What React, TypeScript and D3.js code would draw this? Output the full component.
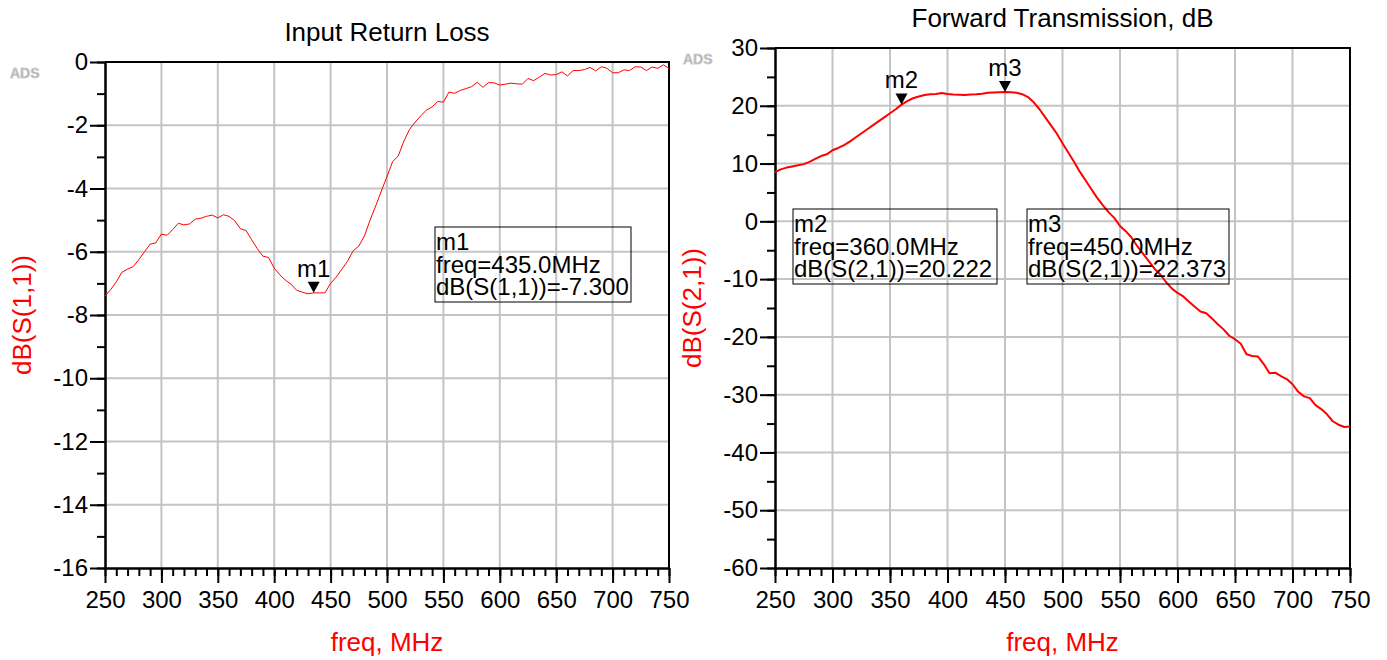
import React, { useEffect, useRef } from "react";
import * as d3 from "d3";

// sweep points (MHz), both traces share the same grid
const FREQ = [
  250, 255, 260, 265, 270, 275, 280, 285, 290, 295, 300, 305, 310, 315, 320, 325, 330, 335, 340, 345,
  350, 355, 360, 365, 370, 375, 380, 385, 390, 395, 400, 405, 410, 415, 420, 425, 430, 435, 440, 445,
  450, 455, 460, 465, 470, 475, 480, 485, 490, 495, 500, 505, 510, 515, 520, 525, 530, 535, 540, 545,
  550, 555, 560, 565, 570, 575, 580, 585, 590, 595, 600, 605, 610, 615, 620, 625, 630, 635, 640, 645,
  650, 655, 660, 665, 670, 675, 680, 685, 690, 695, 700, 705, 710, 715, 720, 725, 730, 735, 740, 745,
  750,
];

const S11_DB = [
  -7.4, -7.2, -6.95, -6.65, -6.55, -6.47, -6.25, -6.0, -5.76, -5.72, -5.44, -5.48, -5.3, -5.1, -5.15,
  -5.12, -4.97, -4.94, -4.88, -4.84, -4.93, -4.83, -4.88, -5.02, -5.27, -5.33, -5.62, -5.9, -6.14, -6.18,
  -6.52, -6.73, -6.9, -7.03, -7.22, -7.28, -7.33, -7.3, -7.3, -7.3, -7.0, -6.8, -6.55, -6.3, -5.97,
  -5.82, -5.5, -5.0, -4.55, -4.08, -3.62, -3.15, -2.97, -2.5, -2.13, -1.9, -1.7, -1.52, -1.42, -1.25,
  -1.27, -0.95, -0.99, -0.9, -0.84, -0.78, -0.64, -0.8, -0.65, -0.66, -0.73, -0.7, -0.67, -0.69, -0.7,
  -0.52, -0.59, -0.48, -0.36, -0.41, -0.4, -0.31, -0.44, -0.27, -0.27, -0.24, -0.17, -0.28, -0.15, -0.2,
  -0.34, -0.34, -0.25, -0.27, -0.15, -0.16, -0.27, -0.16, -0.2, -0.09, -0.2,
];

const S21_DB = [
  8.5, 9.0, 9.3, 9.5, 9.7, 9.9, 10.3, 10.8, 11.3, 11.6, 12.3, 12.7, 13.2, 13.8, 14.5, 15.2, 15.9, 16.6,
  17.3, 18.0, 18.7, 19.4, 20.2, 20.8, 21.3, 21.6, 21.85, 22.0, 22.05, 22.2, 22.05, 21.95, 21.9, 21.85,
  21.95, 22.0, 22.1, 22.25, 22.3, 22.35, 22.37, 22.35, 22.25, 22.0, 21.5, 20.6, 19.4, 18.0, 16.6, 15.2,
  13.5, 11.9, 10.3, 8.6, 7.1, 5.6, 4.1, 2.8, 1.6, 0.6, -0.8, -1.7, -2.8, -4.3, -5.6, -6.9, -8.2, -9.2,
  -10.5, -11.6, -12.4, -13.0, -13.9, -14.8, -15.6, -15.9, -16.8, -17.8, -18.7, -19.8, -20.4, -21.2,
  -23.0, -23.3, -23.4, -24.7, -26.3, -26.2, -26.8, -27.3, -28.2, -29.5, -30.3, -30.6, -31.8, -32.5,
  -33.4, -34.6, -35.2, -35.6, -35.5,
];

const FREQ_TICKS = [250, 300, 350, 400, 450, 500, 550, 600, 650, 700, 750];
const S11_TICKS = [0, -2, -4, -6, -8, -10, -12, -14, -16];
const S21_TICKS = [30, 20, 10, 0, -10, -20, -30, -40, -50, -60];

const MARKER_NAMES = ["m1", "m2", "m3"];
const MARKER_FREQ = [435, 360, 450];
const MARKER_DB = [-7.3, 20.222, 22.373];
const MARKER_TEXT = ["dB(S(1,1))=-7.300", "dB(S(2,1))=20.222", "dB(S(2,1))=22.373"];

const FONT = "'Liberation Sans', Arial, sans-serif";
const GRID = "#c4c4c4";
const RED = "#ff0000";

const panels = [
  {
    left: 105, right: 669, top: 62, bottom: 568,
    yDomain: [-16, 0], yTicks: S11_TICKS, yMinorStep: 1,
    title: "Input Return Loss", titleY: 41,
    ylabel: "dB(S(1,1))", values: S11_DB, lineWidth: 1,
    markers: [0], boxes: [{ m: 0, x: 435, y: 227, w: 196, h: 75 }],
    ads: { x: 10, y: 78 },
  },
  {
    left: 775, right: 1350, top: 48, bottom: 568,
    yDomain: [-60, 30], yTicks: S21_TICKS, yMinorStep: 5,
    title: "Forward Transmission, dB", titleY: 27,
    ylabel: "dB(S(2,1))", values: S21_DB, lineWidth: 2,
    markers: [1, 2],
    boxes: [
      { m: 1, x: 793, y: 209, w: 204, h: 75 },
      { m: 2, x: 1027, y: 209, w: 202, h: 75 },
    ],
    ads: { x: 683, y: 64 },
  },
];

function drawPanel(svg, p) {
  const x = d3.scaleLinear().domain([250, 750]).range([p.left, p.right]);
  const y = d3.scaleLinear().domain(p.yDomain).range([p.bottom, p.top]);
  const g = svg.append("g");

  // grid
  g.append("g")
    .selectAll("line")
    .data(FREQ_TICKS.slice(1, -1))
    .join("line")
    .attr("x1", (d) => x(d)).attr("x2", (d) => x(d))
    .attr("y1", p.top).attr("y2", p.bottom)
    .attr("stroke", GRID).attr("stroke-width", 2);
  g.append("g")
    .selectAll("line")
    .data(p.yTicks.filter((d) => d !== p.yDomain[0] && d !== p.yDomain[1]))
    .join("line")
    .attr("x1", p.left).attr("x2", p.right)
    .attr("y1", (d) => y(d)).attr("y2", (d) => y(d))
    .attr("stroke", GRID).attr("stroke-width", 2);

  // frame top / right
  g.append("path")
    .attr("d", `M${p.left},${p.top}H${p.right}V${p.bottom}`)
    .attr("fill", "none").attr("stroke", "black").attr("stroke-width", 2);

  const styleAxis = (a) => {
    a.attr("font-size", 24).attr("font-family", FONT);
    a.selectAll("line").attr("stroke", "black").attr("stroke-width", 2);
    a.selectAll(".domain").attr("stroke", "black").attr("stroke-width", 2);
    a.selectAll("text").attr("fill", "black");
  };

  // x axis, minor then major
  g.append("g")
    .attr("transform", `translate(0,${p.bottom})`)
    .call(d3.axisBottom(x).tickValues(d3.range(250, 751, 10)).tickSize(8).tickSizeOuter(0).tickFormat(() => ""))
    .call(styleAxis);
  g.append("g")
    .attr("transform", `translate(0,${p.bottom})`)
    .call(d3.axisBottom(x).tickValues(FREQ_TICKS).tickSize(15).tickSizeOuter(0).tickPadding(8).tickFormat((d) => String(d)))
    .call(styleAxis);

  // y axis
  g.append("g")
    .attr("transform", `translate(${p.left},0)`)
    .call(
      d3.axisLeft(y)
        .tickValues(d3.range(p.yDomain[0], p.yDomain[1] + 0.001, p.yMinorStep))
        .tickSize(8).tickSizeOuter(0).tickFormat(() => "")
    )
    .call(styleAxis);
  g.append("g")
    .attr("transform", `translate(${p.left},0)`)
    .call(d3.axisLeft(y).tickValues(p.yTicks).tickSize(15).tickSizeOuter(0).tickPadding(2).tickFormat((d) => String(d)))
    .call(styleAxis);

  // trace
  const line = d3.line().x((d, i) => x(FREQ[i])).y((d) => y(d));
  g.append("path")
    .datum(p.values)
    .attr("d", line)
    .attr("fill", "none")
    .attr("stroke", RED)
    .attr("stroke-width", p.lineWidth)
    .attr("stroke-linejoin", "round");

  // markers
  p.markers.forEach((m) => {
    const mx = x(MARKER_FREQ[m]);
    const my = y(MARKER_DB[m]);
    g.append("path")
      .attr("d", `M${mx - 6},${my - 11}L${mx + 6},${my - 11}L${mx},${my}Z`)
      .attr("fill", "black");
    g.append("text")
      .attr("x", mx).attr("y", my - 16)
      .attr("text-anchor", "middle")
      .attr("font-family", FONT).attr("font-size", 24)
      .text(MARKER_NAMES[m]);
  });

  // marker readout boxes
  p.boxes.forEach((b) => {
    g.append("rect")
      .attr("x", b.x).attr("y", b.y).attr("width", b.w).attr("height", b.h)
      .attr("fill", "none").attr("stroke", "black").attr("stroke-width", 1);
    const lines = [MARKER_NAMES[b.m], `freq=${MARKER_FREQ[b.m].toFixed(1)}MHz`, MARKER_TEXT[b.m]];
    g.append("g")
      .selectAll("text")
      .data(lines)
      .join("text")
      .attr("x", b.x + 1)
      .attr("y", (d, i) => b.y + 23 + i * 22.5)
      .attr("font-family", FONT).attr("font-size", 24)
      .text((d) => d);
  });

  // titles and labels
  g.append("text")
    .attr("x", (p.left + p.right) / 2).attr("y", p.titleY)
    .attr("text-anchor", "middle")
    .attr("font-family", FONT).attr("font-size", 26)
    .text(p.title);
  g.append("text")
    .attr("x", (p.left + p.right) / 2).attr("y", 651)
    .attr("text-anchor", "middle")
    .attr("font-family", FONT).attr("font-size", 26)
    .attr("fill", RED)
    .text("freq, MHz");
  g.append("text")
    .attr("transform", `translate(${p.left - 74},${(p.top + p.bottom) / 2}) rotate(-90)`)
    .attr("text-anchor", "middle")
    .attr("font-family", FONT).attr("font-size", 26)
    .attr("fill", RED)
    .text(p.ylabel);

  // ADS watermark
  g.append("text")
    .attr("x", p.ads.x).attr("y", p.ads.y)
    .attr("font-family", FONT).attr("font-size", 14).attr("font-weight", "bold")
    .attr("fill", "#a8a8a8").attr("stroke", "#d4d4d4").attr("stroke-width", 0.8)
    .text("ADS");
}

const App = () => {
  const ref = useRef(null);

  useEffect(() => {
    const svg = d3.select(ref.current);
    svg.selectAll("*").remove();
    panels.forEach((p) => drawPanel(svg, p));
  }, []);

  return (
    <svg
      ref={ref}
      width={1387}
      height={660}
      style={{ position: "absolute", left: 0, top: 0, background: "white" }}
    />
  );
};

export default App;
